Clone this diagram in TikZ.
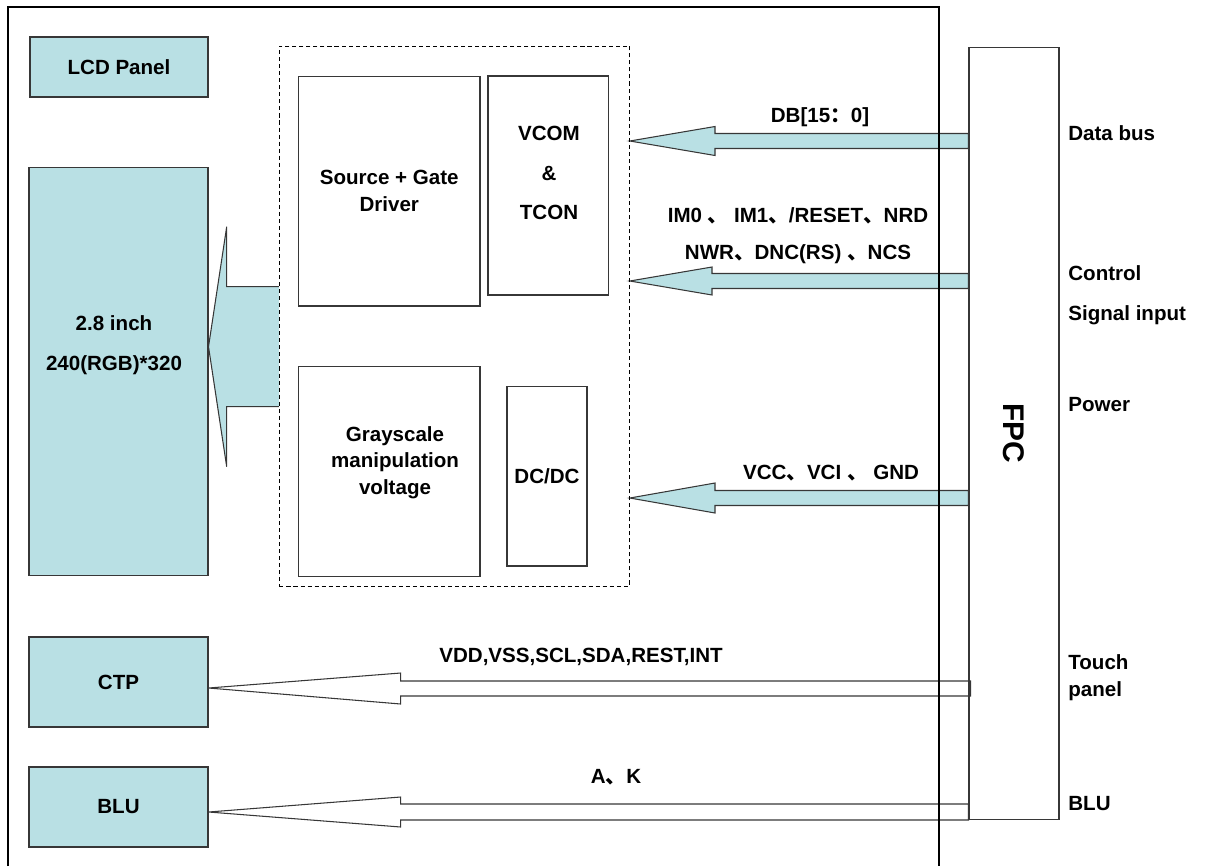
\documentclass[tikz,border=0pt]{standalone}
\usepackage{fontspec}
\setmainfont{Liberation Sans}
\newfontfamily\cjk{Noto Sans CJK SC}
\usetikzlibrary{calc, backgrounds}
\definecolor{panelteal}{RGB}{185, 224, 228}
\definecolor{edgegray}{RGB}{55, 55, 55}
\newcommand{\ckcomma}{{\cjk 、}}
\newcommand{\ckcolon}{{\cjk ：}}

\begin{document}
\begin{tikzpicture}[
    x=0.02cm, y=-0.02cm,
    every node/.style={font=\fontsize{11.7}{15}\selectfont\bfseries},
    tealbox/.style={draw=edgegray, line width=0.6pt, fill=panelteal, inner sep=0pt},
    chipbox/.style={draw=edgegray, line width=0.6pt, inner sep=0pt},
    dashbox/.style={draw, dash pattern=on 2.3pt off 1.7pt, line width=0.5pt, inner sep=0pt},
    lbl/.style={align=center, inner sep=1pt},
    sidelbl/.style={anchor=west, align=left, inner sep=0pt},
    fatline/.style={draw=edgegray, line width=0.6pt}
]
    \useasboundingbox (0,0) rectangle (1206,866);

    % panel side
    \node[tealbox, minimum width=3.56cm, minimum height=1.2cm] (lcd) at (119,67) {LCD Panel};
    \node[tealbox, minimum width=3.58cm, minimum height=8.18cm] (panel) at (118.5,371.5) {};
    \node[lbl] (paneltext) at (114,345) {2.8 inch\\[0.27cm]240(RGB)*320};
    \node[tealbox, minimum width=3.58cm, minimum height=1.8cm] (ctp) at (118.5,682) {CTP};
    \node[tealbox, minimum width=3.58cm, minimum height=1.6cm] (blu) at (118.5,807) {BLU};

    % driver IC
    \node[dashbox, minimum width=7cm, minimum height=10.8cm] (ic) at (454.4,316) {};
    \node[chipbox, minimum width=3.63cm, minimum height=4.6cm, align=center] (driver) at (389.25,191) {Source + Gate\\Driver};
    \node[chipbox, minimum width=2.41cm, minimum height=4.38cm] (vcom) at (548.25,185.5) {};
    \node[lbl] (vcomtext) at (549,173) {VCOM\\[0.27cm]\&\\[0.27cm]TCON};
    \node[chipbox, minimum width=3.63cm, minimum height=4.19cm] (gray) at (389.25,471.35) {};
    \node[lbl] (graytext) at (395,462.5) {Grayscale\\manipulation\\voltage};
    \node[chipbox, minimum width=1.6cm, minimum height=3.6cm] (dcdc) at (547,476) {DC/DC};

    % connector
    \node[chipbox, minimum width=1.8cm, minimum height=15.46cm] (fpc) at (1014,433.5)
        {\fontsize{17}{20}\selectfont\rotatebox{-90}{FPC}};

    % signal names
    \node[lbl] (dblbl) at (820,117) {DB[15\ckcolon 0]};
    \node[lbl] (ctrllbl) at (798,235.5) {IM0 \ckcomma\ IM1\ckcomma/RESET\ckcomma NRD\\[0.21cm]NWR\ckcomma DNC(RS) \ckcomma NCS};
    \node[lbl] (pwrlbl) at (831,473) {VCC\ckcomma VCI \ckcomma\ GND};
    \node[lbl] (ctplbl) at (581,657) {VDD,VSS,SCL,SDA,REST,INT};
    \node[lbl] (blulbl) at (616,777) {A\ckcomma K};

    \node[sidelbl] (busside) at (1068,133) {Data bus};
    \node[sidelbl] (ctrlside) at (1068,295) {Control\\[0.27cm]Signal input};
    \node[sidelbl] (pwrside) at (1068,405) {Power};
    \node[sidelbl] (touchside) at (1068,677.5) {Touch\\panel};
    \node[sidelbl] (bluside) at (1068,804) {BLU};

    \begin{scope}[on background layer]
        % IC to panel
        \fill[panelteal] (ic.west |- 0,286.7) -- (226.7,286.7) -- (226.7,226.7) -- (panel.east |- 0,346.7)
            -- (226.7,466.7) -- (226.7,406.7) -- (ic.west |- 0,406.7) -- cycle;
        \draw[fatline] (ic.west |- 0,286.7) -- (226.7,286.7) -- (226.7,226.7) -- (panel.east |- 0,346.7)
            -- (226.7,466.7) -- (226.7,406.7) -- (ic.west |- 0,406.7);
        % FPC to IC
        \filldraw[fatline, fill=panelteal] (fpc.west |- 0,133.5) -- (715,133.5) -- (715,126.5) -- (ic.east |- 0,141)
            -- (715,155.5) -- (715,148.5) -- (fpc.west |- 0,148.5) -- cycle;
        \filldraw[fatline, fill=panelteal] (fpc.west |- 0,273.5) -- (712,273.5) -- (712,267) -- (ic.east |- 0,281)
            -- (712,295) -- (712,288.5) -- (fpc.west |- 0,288.5) -- cycle;
        \filldraw[fatline, fill=panelteal] (fpc.west |- 0,490.5) -- (715,490.5) -- (715,483) -- (ic.east |- 0,498)
            -- (715,513) -- (715,505.5) -- (fpc.west |- 0,505.5) -- cycle;
        % FPC to CTP and BLU
        \filldraw[fatline, fill=white] ($(fpc.west |- 0,681)+(2,0)$) -- (400.7,681) -- (400.7,673) -- (ctp.east |- 0,688)
            -- (400.7,704) -- (400.7,696) -- ($(fpc.west |- 0,696)+(2,0)$) -- cycle;
        \filldraw[fatline, fill=white] (fpc.west |- 0,804) -- (400.7,804) -- (400.7,797) -- (blu.east |- 0,812)
            -- (400.7,827) -- (400.7,820) -- (fpc.west |- 0,820) -- cycle;
    \end{scope}

    % module outline
    \draw[line width=0.6pt] (8,866) -- (8,7) -- (939,7) -- (939,866);
\end{tikzpicture}
\end{document}
